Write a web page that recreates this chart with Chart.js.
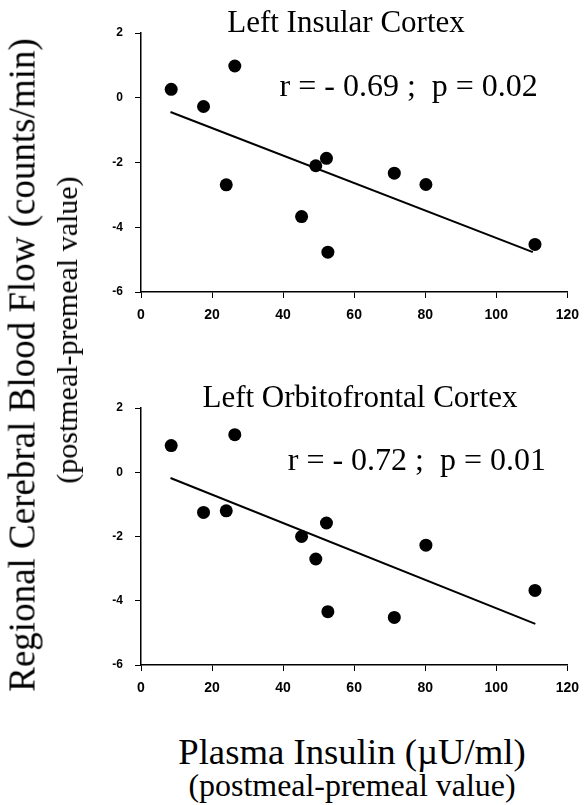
<!DOCTYPE html>
<html>
<head>
<meta charset="utf-8">
<script src="https://cdn.jsdelivr.net/npm/chart.js@4.4.1/dist/chart.umd.min.js"></script>
<style>
body { margin: 0; width: 588px; height: 805px; background: #fff; position: relative; overflow: hidden; font-family: "Liberation Serif", "Times New Roman", serif; }
.box { position: absolute; left: 0; width: 588px; height: 330px; }
.lbl { position: absolute; white-space: nowrap; line-height: 1; color: #000; transform: translate(-50%, -50%); }
.rot { transform: translate(-50%, -50%) rotate(-90deg); }
</style>
</head>
<body>
<div class="box" style="top:0"><canvas id="insularChart"></canvas></div>
<div class="box" style="top:375px"><canvas id="orbitoChart"></canvas></div>

<div class="lbl rot" style="left:22px;top:365px;font-size:37px">Regional Cerebral Blood Flow (counts/min)</div>
<div class="lbl rot" style="left:67px;top:330px;font-size:30px">(postmeal-premeal value)</div>
<div class="lbl" style="left:352px;top:752px;font-size:36px;transform:translate(-50%,-50%) scaleX(1.02)">Plasma Insulin (&micro;U/ml)</div>
<div class="lbl" style="left:352px;top:785px;font-size:31px;transform:translate(-50%,-50%) scaleX(1.03)">(postmeal-premeal value)</div>

<script>
// plasma insulin change, same subjects in both panels
const insulin = [8.5, 17.6, 24.0, 26.4, 45.2, 49.2, 52.2, 52.6, 71.3, 80.2, 110.9];
const insularFlow = [0.26, -0.27, -2.69, 0.98, -3.67, -2.10, -1.87, -4.77, -2.33, -2.68, -4.53];
const orbitoFlow = [0.83, -1.25, -1.20, 1.17, -2.00, -2.70, -1.58, -4.34, -4.52, -2.27, -3.68];

// regression line end points
const insularFitX = [8.3, 110.3];
const insularFitY = [-0.44, -4.77];
const orbitoFitX = [8.3, 111.0];
const orbitoFitY = [-0.18, -4.72];

const xTicks = [0, 20, 40, 60, 80, 100, 120];
const yTicks = [2, 0, -2, -4, -6];

const toPoints = (xs, ys) => xs.map((x, i) => ({ x: x, y: ys[i] }));

const panelText = {
    id: 'panelText',
    afterDraw(chart, args, opts) {
        const ctx = chart.ctx;
        ctx.save();
        ctx.fillStyle = '#000';
        ctx.textBaseline = 'alphabetic';
        ctx.font = '31px "Liberation Serif"';
        ctx.textAlign = 'center';
        ctx.fillText(opts.title, opts.titleX, opts.titleY);
        ctx.font = '32px "Liberation Serif"';
        ctx.textAlign = 'left';
        ctx.fillText(opts.stat,
            chart.scales.x.getPixelForValue(opts.statAt[0]),
            chart.scales.y.getPixelForValue(opts.statAt[1]));
        ctx.restore();
    }
};

function makeChart(id, flow, fitX, fitY, text, bottomH) {
    const ctx = document.getElementById(id).getContext('2d');
    return new Chart(ctx, {
        type: 'scatter',
        data: {
            datasets: [{
                data: toPoints(insulin, flow),
                backgroundColor: '#000',
                borderWidth: 0,
                pointRadius: 6.5
            }, {
                data: toPoints(fitX, fitY),
                showLine: true,
                borderColor: '#000',
                borderWidth: 2,
                pointRadius: 0
            }]
        },
        options: {
            responsive: true,
            maintainAspectRatio: false,
            animation: false,
            layout: { padding: { top: 33, right: 13, left: 0, bottom: 0 } },
            scales: {
                x: {
                    type: 'linear',
                    min: 0,
                    max: 120,
                    afterBuildTicks: s => { s.ticks = xTicks.map(v => ({ value: v })); },
                    afterFit: s => { s.height = bottomH; },
                    ticks: { color: '#000', padding: 9, maxRotation: 0, font: { family: 'Arial', size: 14, weight: 'bold' } },
                    grid: { drawOnChartArea: false, color: '#000', tickLength: 6 },
                    border: { color: '#000', width: 1.5 }
                },
                y: {
                    min: -6,
                    max: 2,
                    afterBuildTicks: s => { s.ticks = yTicks.map(v => ({ value: v })); },
                    afterFit: s => { s.width = 141; },
                    ticks: { color: '#000', padding: 12, font: { family: 'Arial', size: 12, weight: 'bold' } },
                    grid: { drawOnChartArea: false, color: '#000', tickLength: 6 },
                    border: { color: '#000', width: 1.5 }
                }
            },
            plugins: {
                legend: { display: false },
                tooltip: { enabled: false },
                panelText: text
            }
        },
        plugins: [panelText]
    });
}

makeChart('insularChart', insularFlow, insularFitX, insularFitY, {
    title: 'Left Insular Cortex', titleX: 346, titleY: 32,
    stat: 'r = - 0.69 ;  p = 0.02', statAt: [39, 0.06]
}, 38);

makeChart('orbitoChart', orbitoFlow, orbitoFitX, orbitoFitY, {
    title: 'Left Orbitofrontal Cortex', titleX: 360, titleY: 32,
    stat: 'r = - 0.72 ;  p = 0.01', statAt: [41.3, 0.08]
}, 40);
</script>
</body>
</html>
